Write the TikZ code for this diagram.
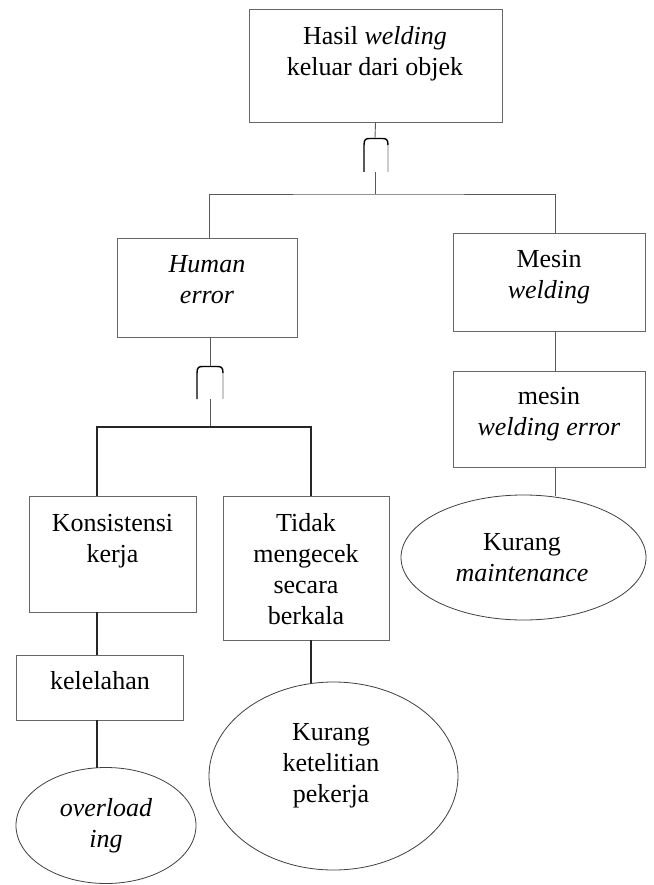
\documentclass[tikz,border=0pt]{standalone}
\usepackage{fontspec}
\setmainfont{Liberation Serif}
\usetikzlibrary{shapes.geometric}
\begin{document}
\begin{tikzpicture}[x=1pt,y=-1pt,
  boxshape/.style={draw=black!60, line width=0.9pt, rectangle, inner sep=0pt},
  ellshape/.style={draw=black!75, line width=0.8pt, ellipse, inner sep=0pt},
  txt/.style={align=center, inner sep=0pt, font=\fontsize{26}{31}\selectfont},
  conn/.style={draw=black!65, line width=0.9pt},
  thickconn/.style={draw=black!85, line width=1.6pt},
  gatedark/.style={draw=black, line width=1.4pt},
  gatelight/.style={draw=black!20, line width=1.2pt}]
\useasboundingbox (0,0) rectangle (653,885);
\fill[white] (0,0) rectangle (653,885);

% boxes
\node[boxshape, minimum width=253pt, minimum height=113pt] (top) at (375.5,65.5) {};
\node[txt] (toptxt) at (375,54) {Hasil \textit{welding}\\keluar dari objek};

\node[boxshape, minimum width=180pt, minimum height=99pt] (human) at (207,287.5) {};
\node[txt] (humantxt) at (207,280) {\textit{Human}\\\textit{error}};

\node[boxshape, minimum width=192pt, minimum height=98pt] (mesin) at (549,282) {};
\node[txt] (mesintxt) at (549,277) {Mesin\\\textit{welding}};

\node[boxshape, minimum width=192pt, minimum height=96pt] (merr) at (549,419) {};
\node[txt] (merrtxt) at (549,414) {mesin\\\textit{welding error}};

\node[boxshape, minimum width=167pt, minimum height=116pt] (kons) at (112.5,554) {};
\node[txt] (konstxt) at (112.5,541) {Konsistensi\\kerja};

\node[boxshape, minimum width=166pt, minimum height=144pt] (tidak) at (306,568) {};
\node[txt] (tidaktxt) at (306,569.5) {Tidak\\mengecek\\secara\\berkala};

\node[boxshape, minimum width=167pt, minimum height=65pt] (lelah) at (99.5,687.5) {};
\node[txt] (lelahtxt) at (100,681) {kelelahan};

% ellipses
\node[ellshape, minimum width=180pt, minimum height=116pt] (over) at (106,825.5) {};
\node[txt] (overtxt) at (106,826) {\textit{overload}\\\textit{ing}};

\node[ellshape, minimum width=249pt, minimum height=188pt] (teliti) at (333.5,776) {};
\node[txt] (telititxt) at (331,766) {Kurang\\ketelitian\\pekerja};

\node[ellshape, minimum width=245pt, minimum height=125pt] (maint) at (523.5,557.5) {};
\node[txt] (mainttxt) at (522,558) {Kurang\\\textit{maintenance}};

% gate 1
\coordinate (g1t) at (375,138);
\coordinate (g1b) at (375,172);
\draw[gatelight] (388,145) -- (388,172);
\draw[gatedark] (364,172) -- (364,145) .. controls (364,139) and (366,138.5) .. (370,138.5) -- (382,138.5) .. controls (386,138.5) and (388,139) .. (388,145);
% gate 2
\coordinate (g2t) at (210,366);
\coordinate (g2b) at (210,399);
\draw[gatelight] (223,373) -- (223,399);
\draw[gatedark] (197,399) -- (197,373) .. controls (197,367) and (199,366.5) .. (203,366.5) -- (217,366.5) .. controls (221,366.5) and (223,367) .. (223,373);

% connectors
\coordinate (h1) at (375,194);
\coordinate (h2) at (210,427);
\draw[conn] (top.south) -- (g1t);
\draw[conn] (g1b) -- (h1);
\draw[conn] (human.north -| 209,0) |- (h1) -| (mesin.north -| 555,0);
\draw[conn] (human.south -| g2t) -- (g2t);
\draw[conn] (g2b) -- (h2);
\draw[thickconn] (kons.north -| 97,0) |- (h2) -| (tidak.north -| 311,0);
\draw[thickconn] (kons.south -| 97,0) -- (lelah.north -| 97,0);
\draw[thickconn] (lelah.south -| 97,0) -- (97,767.5);
\draw[thickconn] (tidak.south -| 311,0) -- (311,682.5);
\draw[conn] (mesin.south -| 555,0) -- (merr.north -| 555,0);
\draw[conn] (merr.south -| 555,0) -- (555,495.5);
\end{tikzpicture}
\end{document}
